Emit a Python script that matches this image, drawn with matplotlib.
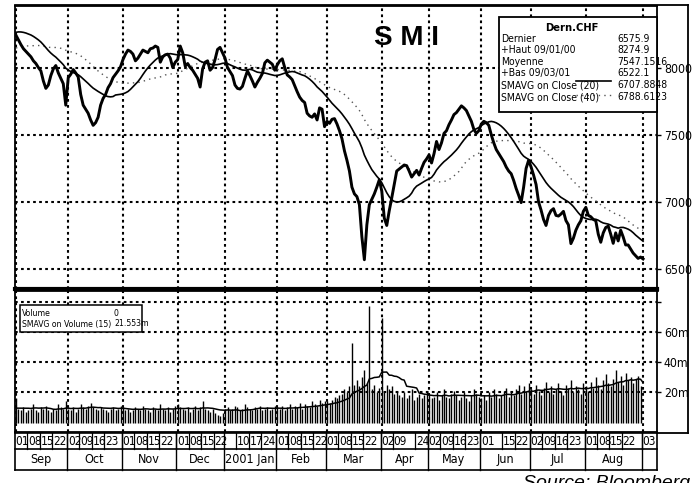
import os
import numpy as np
import pandas as pd
import matplotlib
matplotlib.use("Agg")
import matplotlib.pyplot as plt
import matplotlib.transforms as mtransforms
from matplotlib.lines import Line2D
from matplotlib.patches import Rectangle
from matplotlib import font_manager
from matplotlib.font_manager import FontProperties

# ---------------- data ----------------
swx_holidays = ["2000-12-25", "2000-12-26", "2001-01-01", "2001-01-02",
                "2001-04-13", "2001-04-16", "2001-05-01", "2001-05-24",
                "2001-06-04"]

# closes before the plotted range (only feed the moving averages)
pre_close = [7980, 8010, 8040, 8020, 7990, 8030, 8060, 8040, 8000, 7970,
             8000, 8020, 8050, 8030, 8010, 7990, 8020, 8040, 8060, 8080, 8110,
             8150, 8180, 8200, 8220, 8240, 8230, 8260, 8280, 8270, 8290,
             8300, 8280, 8300, 8320, 8310, 8300, 8320, 8290, 8270]

close_sep = [8240, 8205, 8170, 8140, 8120, 8100, 8080, 8050, 8030, 8000,
             7975, 7900, 7845, 7870, 7940, 7990, 8015, 7960, 7920, 7880, 7720]
close_oct = [7925, 7950, 7985, 7960, 7930, 7800, 7720, 7690, 7660, 7610, 7570,
             7590, 7630, 7720, 7770, 7800, 7850, 7880, 7925, 7950, 7975, 8005]
close_nov = [8060, 8100, 8130, 8120, 8100, 8050, 8070, 8100, 8130, 8120, 8110,
             8140, 8145, 8160, 8150, 8040, 8080, 8095, 8100, 8070, 8000, 8040]
close_dec = [8060, 8160, 8110, 8010, 8030, 8000, 7980, 7950, 7920, 7855,
             7990, 8040, 8050, 7980, 8000, 8060, 8135, 8150, 8110]
close_jan = [8070, 8000, 7970, 7940, 7870, 7845, 7840, 7860, 7920, 7975, 7940,
             7900, 7855, 7890, 7920, 7955, 8035, 8055, 8040, 8025, 7980]
close_feb = [8020, 8050, 8065, 8000, 7945, 7930, 7910, 7865, 7820, 7780,
             7755, 7740, 7660, 7640, 7630, 7655, 7610, 7700, 7690, 7560]
close_mar = [7600, 7585, 7615, 7620, 7580, 7530, 7470, 7380, 7310, 7230, 7110,
             7060, 7040, 6980, 6740, 6570, 6830, 6980, 7020, 7060, 7110, 7165]
close_apr = [7080, 6880, 6825, 6935, 7030, 7130, 7230, 7245, 7260, 7275,
             7270, 7230, 7185, 7210, 7235, 7200, 7250, 7295, 7320]
close_may = [7350, 7290, 7360, 7450, 7390, 7440, 7510, 7530, 7575, 7610, 7650,
             7665, 7690, 7715, 7700, 7680, 7640, 7600, 7540, 7510, 7530]
close_jun = [7580, 7600, 7590, 7570, 7500, 7440, 7390, 7360, 7330, 7300,
             7260, 7230, 7210, 7160, 7100, 7050, 6995, 7110, 7250, 7310]
close_jul = [7260, 7200, 7130, 7000, 6940, 6870, 6825, 6900, 6935, 6950, 6900,
             6895, 6910, 6930, 6861.6, 6830, 6690, 6730, 6790, 6830, 6860, 6930]
close_aug = [6960, 6900, 6890, 6870, 6860, 6760, 6700, 6770, 6810, 6820, 6760,
             6692, 6770, 6710, 6790, 6740, 6680, 6680, 6650, 6620, 6600, 6580,
             6590]
close_sep01 = [6575.9]

# volume in millions of shares
pre_volume = [8, 9, 7, 10, 8, 9, 11, 8, 7, 9, 10, 8, 9, 12, 10]
vol_sep = [16, 9, 8, 10, 7, 8, 9, 12, 8, 7, 10, 9, 11, 8, 7, 9, 8, 12, 10, 9, 14]
vol_oct = [9, 8, 10, 7, 9, 12, 10, 9, 11, 13, 10, 9, 8, 10, 9, 8, 7, 9, 10, 8, 9, 11]
vol_nov = [10, 8, 9, 7, 8, 10, 9, 8, 11, 9, 8, 7, 10, 9, 8, 12, 9, 8, 10, 7, 9, 11]
vol_dec = [12, 10, 9, 8, 10, 7, 9, 11, 8, 10, 14, 9, 8, 7, 9, 6, 5, 4, 6]
vol_jan = [9, 10, 8, 9, 11, 10, 8, 9, 12, 10, 9, 8, 10, 9, 11, 8, 9, 10, 8, 9, 11]
vol_feb = [10, 9, 11, 8, 10, 12, 9, 11, 10, 13, 9, 12, 11, 10, 14, 12, 11, 15, 13, 14]
vol_mar = [14, 13, 15, 17, 16, 18, 19, 22, 20, 24, 53, 25, 28, 24, 30, 35, 26,
           77, 22, 25, 20, 23]
vol_apr = [69, 20, 25, 22, 24, 19, 21, 18, 17, 20, 16, 18, 22, 15, 17, 19, 16, 18, 20]
vol_may = [18, 16, 17, 20, 15, 18, 22, 17, 16, 19, 21, 18, 15, 17, 20, 16, 14,
           18, 22, 19, 17]
vol_jun = [16, 18, 15, 20, 17, 22, 19, 16, 18, 21, 23, 17, 20, 18, 22, 25, 19,
           24, 21, 26]
vol_jul = [22, 19, 25, 21, 18, 23, 27, 20, 24, 19, 22, 26, 21, 18, 25, 23, 28,
           20, 24, 22, 19, 26]
vol_aug = [24, 21, 27, 23, 30, 25, 22, 28, 32, 26, 24, 29, 35, 27, 31, 25, 33,
           28, 30, 26, 29, 31, 24]
vol_sep01 = [0]

month_names = ["Sep", "Oct", "Nov", "Dec", "2001 Jan", "Feb", "Mar", "Apr",
               "May", "Jun", "Jul", "Aug", ""]
day_label_dates = ["2000-09-01", "2000-09-08", "2000-09-15", "2000-09-22",
                   "2000-10-02", "2000-10-09", "2000-10-16", "2000-10-23",
                   "2000-11-01", "2000-11-08", "2000-11-15", "2000-11-22",
                   "2000-12-01", "2000-12-08", "2000-12-15", "2000-12-22",
                   "2001-01-10", "2001-01-17", "2001-01-24",
                   "2001-02-01", "2001-02-08", "2001-02-15", "2001-02-22",
                   "2001-03-01", "2001-03-08", "2001-03-15", "2001-03-22",
                   "2001-04-02", "2001-04-09", "2001-04-24",
                   "2001-05-02", "2001-05-09", "2001-05-16", "2001-05-23",
                   "2001-06-01", "2001-06-15", "2001-06-22",
                   "2001-07-02", "2001-07-09", "2001-07-16", "2001-07-23",
                   "2001-08-01", "2001-08-08", "2001-08-15", "2001-08-22",
                   "2001-09-03"]

price_ticks = [6500, 7000, 7500, 8000]
volume_ticks = [20, 40, 60, 80]
volume_tick_labels = ["20m", "40m", "60m", ""]

legend_rows = [("Dernier", "6575.9"),
               ("+Haut 09/01/00", "8274.9"),
               ("Moyenne", "7547.1516"),
               ("+Bas 09/03/01", "6522.1"),
               ("SMAVG on Close (20)", "6707.8848"),
               ("SMAVG on Close (40)", "6788.6123")]
vol_legend_rows = [("Volume", "0"), ("SMAVG on Volume (15)", "21.553m")]

# ---------------- series ----------------
dates = pd.bdate_range("2000-09-01", "2001-09-03")
dates = dates[~dates.isin(pd.to_datetime(swx_holidays))]

close = np.array(close_sep + close_oct + close_nov + close_dec + close_jan +
                 close_feb + close_mar + close_apr + close_may + close_jun +
                 close_jul + close_aug + close_sep01, dtype=float)
volume = np.array(vol_sep + vol_oct + vol_nov + vol_dec + vol_jan + vol_feb +
                  vol_mar + vol_apr + vol_may + vol_jun + vol_jul + vol_aug +
                  vol_sep01, dtype=float)
n = len(close)
dates = dates[:n]
idx = np.arange(n)

full_close = pd.Series(list(pre_close) + list(close))
ma20 = full_close.rolling(20).mean().to_numpy()[-n:]
ma40 = full_close.rolling(40).mean().to_numpy()[-n:]
full_vol = pd.Series(list(pre_volume) + list(volume))
vma15 = full_vol.rolling(15).mean().to_numpy()[-n:]

pos = pd.Series(idx, index=dates)
month_start = pos.groupby([dates.year, dates.month]).first().to_numpy()
label_idx = [pos[pd.Timestamp(d)] for d in day_label_dates]
label_txt = [pd.Timestamp(d).strftime("%d") for d in day_label_dates]

# ---------------- fonts ----------------
def _find_narrow(bold=False):
    best, best_rank = None, 99
    for f in font_manager.fontManager.ttflist:
        base = os.path.basename(f.fname).lower()
        if not ("narrow" in base or "condensed" in base):
            continue
        if any(k in base for k in ("italic", "oblique", "light", "thin",
                                   "medium", "black", "semi", "extra")):
            continue
        if ("bold" in base) != bold:
            continue
        rank = 0 if "liberation" in base else (1 if "dejavu" in base else 2)
        if rank < best_rank:
            best, best_rank = f.fname, rank
    return best


NARROW_REG = _find_narrow(False)
NARROW_BOLD = _find_narrow(True) or NARROW_REG
SCALE = 1.0 if NARROW_REG else 0.8


def tfont(size, bold=False):
    path = NARROW_BOLD if bold else NARROW_REG
    if path:
        p = FontProperties(fname=path)
    else:
        p = FontProperties(family=["Liberation Sans", "DejaVu Sans"],
                           weight="bold" if bold else "normal")
    p.set_size(size * SCALE)
    return p


# ---------------- figure ----------------
W, H = 696, 483
fig = plt.figure(figsize=(W / 100, H / 100), dpi=100)
fig.patch.set_facecolor("white")


def fx(px):
    return px / W


def fy(py):
    return 1 - py / H


XL, XR = 14.5, 657
ax = fig.add_axes([fx(XL), fy(288.5), fx(XR) - fx(XL), fy(6) - fy(288.5)])
axv = fig.add_axes([fx(XL), fy(432), fx(XR) - fx(XL), fy(290) - fy(432)], sharex=ax)

x_lo, x_hi = -0.6, 257.6
grid_kw = dict(color="black", lw=1.5, ls=(0, (1.3, 1.6)))

for a in (ax, axv):
    a.set_xlim(x_lo, x_hi)
    a.set_xticks(month_start)
    a.tick_params(axis="x", length=0, labelbottom=False)
    a.yaxis.tick_right()
    a.tick_params(axis="y", direction="out", length=3, width=1, pad=2)
    a.grid(True, **grid_kw)
    a.set_axisbelow(True)
    for s in a.spines.values():
        s.set_linewidth(1.3)

# price panel
ax.set_ylim(6356, 8458)
ax.set_yticks(price_ticks)
ax.set_yticklabels([str(t) for t in price_ticks], fontproperties=tfont(8.8))
ax.spines["bottom"].set_linewidth(3.0)
ax.plot(idx, ma40, color="#555555", lw=1.0, ls=(0, (1, 3)), zorder=3)
ax.plot(idx, ma20, color="black", lw=1.2, zorder=4)
ax.plot(idx, close, color="black", lw=2.1, zorder=5)

# volume panel
axv.set_ylim(-6.3, 87.9)
axv.set_yticks(volume_ticks)
axv.set_yticklabels(volume_tick_labels, fontproperties=tfont(8.8))
axv.spines["top"].set_linewidth(2.0)
axv.vlines(idx, 0, volume, color="black", lw=1.0, zorder=3)
axv.plot(idx, vma15, color="black", lw=1.1, zorder=4)

# title
fig.text(fx(406), fy(38), "S M I", fontsize=20, fontweight="bold",
         family=["Liberation Sans", "DejaVu Sans"], ha="center", va="center")

# price legend box
fig.add_artist(Rectangle((fx(499), fy(112)), fx(657) - fx(499), fy(17) - fy(112),
                         transform=fig.transFigure, facecolor="white",
                         edgecolor="black", lw=1.3, zorder=10))
fig.text(fx(572), fy(28), "Dern.CHF", fontproperties=tfont(8, bold=True),
         ha="center", va="center", zorder=11)
row_y = [39, 50, 62, 73, 85, 97]
for (lab, val), ry in zip(legend_rows, row_y):
    fig.text(fx(501), fy(ry), lab, fontproperties=tfont(7.5), ha="left",
             va="center", zorder=11)
    fig.text(fx(617), fy(ry), val, fontproperties=tfont(7.5), ha="left",
             va="center", zorder=11)
fig.add_artist(Line2D([fx(576), fx(611)], [fy(81), fy(81)], color="black",
                      lw=1.2, transform=fig.transFigure, zorder=11))
fig.add_artist(Line2D([fx(576), fx(611)], [fy(95), fy(95)], color="#555555",
                      lw=1.0, ls=(0, (1, 3)), transform=fig.transFigure,
                      zorder=11))

# volume legend box
fig.add_artist(Rectangle((fx(20), fy(332)), fx(142) - fx(20), fy(305) - fy(332),
                         transform=fig.transFigure, facecolor="white",
                         edgecolor="black", lw=1.1, zorder=10))
for (lab, val), ry in zip(vol_legend_rows, [313, 324]):
    fig.text(fx(22), fy(ry), lab, fontproperties=tfont(6.2), ha="left",
             va="center", zorder=11)
    fig.text(fx(114), fy(ry), val, fontproperties=tfont(6.2), ha="left",
             va="center", zorder=11)

# outer frame on the right
for xs, ys in [([XL, 688], [5, 5]), ([688, 688], [5, 433]), ([XR, 688], [433, 433])]:
    fig.add_artist(Line2D([fx(v) for v in xs], [fy(v) for v in ys],
                          color="black", lw=1.3, transform=fig.transFigure))

# date table under the volume panel
tb = mtransforms.blended_transform_factory(axv.transData, fig.transFigure)
T_TOP, T_MID, T_BOT = 433, 449, 470
for yy in (T_TOP, T_MID, T_BOT):
    fig.add_artist(Line2D([fx(XL), fx(XR)], [fy(yy), fy(yy)], color="black",
                          lw=1.2, transform=fig.transFigure))
for xx in (XL, XR):
    fig.add_artist(Line2D([fx(xx), fx(xx)], [fy(T_TOP), fy(T_BOT)], color="black",
                          lw=1.2, transform=fig.transFigure))
bounds = list(month_start) + [x_hi]
for b in month_start[1:]:
    fig.add_artist(Line2D([b - 0.5, b - 0.5], [fy(T_TOP), fy(T_BOT)],
                          color="black", lw=1.0, transform=tb))
for li, lt in zip(label_idx, label_txt):
    if li > 0:
        fig.add_artist(Line2D([li - 0.5, li - 0.5], [fy(T_TOP), fy(T_MID)],
                              color="black", lw=0.9, transform=tb))
    fig.text(li - 0.2, fy(441.5), lt, transform=tb, fontproperties=tfont(8.5),
             ha="left", va="center")
for i, name in enumerate(month_names):
    mid = (bounds[i] + bounds[i + 1]) / 2 - 0.5
    fig.text(mid, fy(459.5), name, transform=tb, fontproperties=tfont(9),
             ha="center", va="center")

fig.text(fx(690), fy(488), "Source: Bloomberg", fontsize=14,
         family=["Liberation Sans", "DejaVu Sans"], style="italic",
         ha="right", va="baseline")

fig.savefig("out.png", dpi=100, facecolor="white")
